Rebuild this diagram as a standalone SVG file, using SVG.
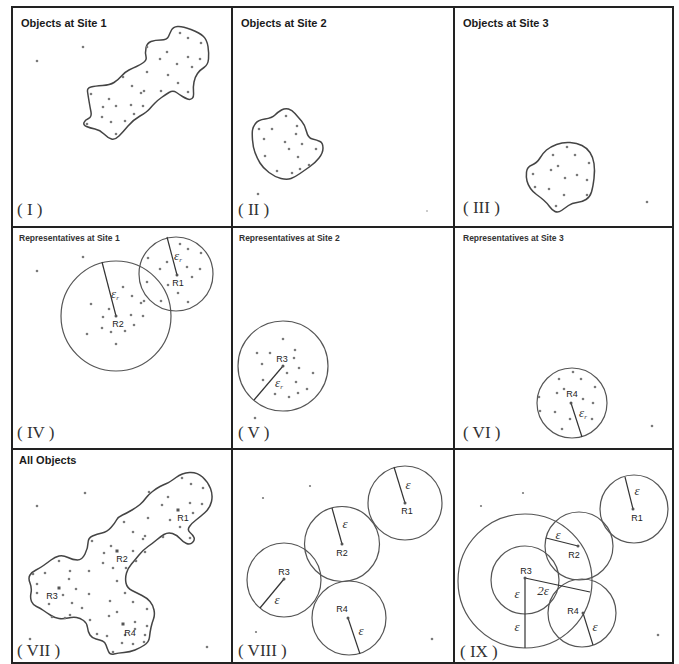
<svg xmlns="http://www.w3.org/2000/svg" width="679" height="664" viewBox="0 0 679 664">
<style>
.grid{fill:none;stroke:#222;stroke-width:2}
.blob{fill:none;stroke:#444;stroke-width:1.5;stroke-linejoin:round}
.circ{fill:none;stroke:#555;stroke-width:1.2}
.rad{stroke:#333;stroke-width:1.2}
.d{fill:#7a7a7a}
.rp{fill:#555}
.t1{font-family:"Liberation Sans",Arial,sans-serif;font-weight:bold;font-size:11px;fill:#1a1a1a}
.t2{font-family:"Liberation Sans",Arial,sans-serif;font-weight:bold;font-size:8.5px;fill:#333}
.rl{font-family:"Liberation Sans",Arial,sans-serif;font-size:9px;fill:#222;text-anchor:middle}
.num{font-family:"Liberation Serif","Times New Roman",serif;font-size:17px;fill:#333}
.eps{font-family:"Liberation Serif","Times New Roman",serif;font-style:italic;font-size:13px;fill:#333;text-anchor:middle}
.sub{font-size:7px}
</style>
<rect x="0" y="0" width="679" height="664" fill="#fff"/>
<g id="grid">
<rect class="grid" x="12" y="7" width="661" height="656"/>
<line class="grid" x1="232" y1="7" x2="232" y2="663"/>
<line class="grid" x1="454" y1="7" x2="454" y2="663"/>
<line class="grid" x1="12" y1="227" x2="673" y2="227"/>
<line class="grid" x1="12" y1="449" x2="673" y2="449"/>
</g>

<g id="panel-I">
<text class="t1" x="21" y="27">Objects at Site 1</text>
<path class="blob" d="M171.5,30 Q173,27 177.5,26.5 Q182,26 191,29.5 Q200,33 203.5,36.5 Q207,40 208,46.5 Q209,53 208.5,59 Q208,65 204,67.5 Q200,70 197.5,73.5 Q195,77 194,82 Q193,87 193.5,92 Q194,97 192,98.5 Q190,100 187.5,99 Q185,98 182.5,96.5 Q180,95 176.5,92.5 Q173,90 169,92.5 Q165,95 161.5,97.5 Q158,100 155,103 Q152,106 149.5,109 Q147,112 140,116 Q133,120 128,126 Q123,132 119,136 Q115,140 111.5,139 Q108,138 104,134 Q100,130 95,129 Q90,128 86.5,126.5 Q83,125 84,122.5 Q85,120 88.5,118.5 Q92,117 91,112 Q90,107 89,101 Q88,95 87.5,91.5 Q87,88 91,87 Q95,86 102.5,85.5 Q110,85 114,82.5 Q118,80 121.5,76 Q125,72 129,70 Q133,68 136.5,66.5 Q140,65 143.5,62.5 Q147,60 146,56.5 Q145,53 146,48 Q147,43 151,41.5 Q155,40 161,40 Q167,40 168.5,36.5 Q170,33 171.5,30 Z"/>
<g class="d">
<circle cx="180" cy="33" r="1.3"/><circle cx="188" cy="38" r="1.3"/><circle cx="201" cy="43" r="1.3"/><circle cx="147" cy="47" r="1.3"/><circle cx="167" cy="52" r="1.3"/><circle cx="160" cy="59" r="1.3"/><circle cx="188" cy="57" r="1.3"/><circle cx="200" cy="59" r="1.3"/><circle cx="177" cy="64" r="1.3"/><circle cx="192" cy="67" r="1.3"/><circle cx="147" cy="72" r="1.3"/><circle cx="168" cy="75" r="1.3"/><circle cx="123" cy="77" r="1.3"/><circle cx="132" cy="86" r="1.3"/><circle cx="178" cy="83" r="1.3"/><circle cx="144" cy="91" r="1.3"/><circle cx="141" cy="93" r="1.3"/><circle cx="161" cy="91" r="1.3"/><circle cx="188" cy="92" r="1.3"/><circle cx="91" cy="94" r="1.3"/><circle cx="109" cy="99" r="1.3"/><circle cx="103" cy="107" r="1.3"/><circle cx="116" cy="106" r="1.3"/><circle cx="131" cy="105" r="1.3"/><circle cx="143" cy="106" r="1.3"/><circle cx="134" cy="114" r="1.3"/><circle cx="102" cy="117" r="1.3"/><circle cx="111" cy="122" r="1.3"/><circle cx="125" cy="121" r="1.3"/><circle cx="87" cy="124" r="1.3"/><circle cx="116" cy="134" r="1.3"/>
<circle cx="37" cy="61" r="1.3"/><circle cx="83" cy="47" r="1.3"/>
</g>
<text class="num" x="17" y="215">( I )</text>
</g>

<g id="panel-II">
<text class="t1" x="241" y="27">Objects at Site 2</text>
<path class="blob" d="M252.5,130 Q253,127 255.5,123.5 Q258,120 265,119 Q272,118 275,115 Q278,112 281.5,110 Q285,108 288.5,109 Q292,110 295,113.5 Q298,117 301.5,121 Q305,125 306.5,131.5 Q308,138 312.5,139 Q317,140 320,141.5 Q323,143 323,148 Q323,153 319,158 Q315,163 310,166.5 Q305,170 300,173.5 Q295,177 291,178.5 Q287,180 281,178.5 Q275,177 269,172.5 Q263,168 260,163 Q257,158 255,152.5 Q253,147 252.5,140 Q252,133 252.5,130 Z"/>
<g class="d">
<circle cx="286" cy="116" r="1.3"/><circle cx="259" cy="129" r="1.3"/><circle cx="272" cy="129" r="1.3"/><circle cx="297" cy="126" r="1.3"/><circle cx="296" cy="134" r="1.3"/><circle cx="264" cy="139" r="1.3"/><circle cx="285" cy="142" r="1.3"/><circle cx="302" cy="144" r="1.3"/><circle cx="289" cy="149" r="1.3"/><circle cx="316" cy="149" r="1.3"/><circle cx="265" cy="156" r="1.3"/><circle cx="298" cy="157" r="1.3"/><circle cx="309" cy="165" r="1.3"/><circle cx="300" cy="169" r="1.3"/><circle cx="277" cy="171" r="1.3"/><circle cx="292" cy="173" r="1.3"/>
<circle cx="258" cy="194" r="1.3"/><circle cx="427" cy="211" r="1" fill="#bbb"/>
</g>
<text class="num" x="238" y="215">( II )</text>
</g>

<g id="panel-III">
<text class="t1" x="463" y="27">Objects at Site 3</text>
<path class="blob" d="M526.5,172 Q527,167 532,165 Q537,163 540,158 Q543,153 546.5,150 Q550,147 556.5,144.5 Q563,142 570,142.5 Q577,143 582,145.5 Q587,148 590,152.5 Q593,157 594,163.5 Q595,170 594,178.5 Q593,187 591.5,192 Q590,197 586,199.5 Q582,202 577,202.5 Q572,203 568.5,205.5 Q565,208 561.5,210.5 Q558,213 555,211.5 Q552,210 549.5,206.5 Q547,203 543.5,200 Q540,197 536.5,194.5 Q533,192 530.5,188.5 Q528,185 527,181 Q526,177 526.5,172 Z"/>
<g class="d">
<circle cx="567" cy="147" r="1.3"/><circle cx="553" cy="155" r="1.3"/><circle cx="575" cy="155" r="1.3"/><circle cx="589" cy="163" r="1.3"/><circle cx="558" cy="166" r="1.3"/><circle cx="551" cy="170" r="1.3"/><circle cx="533" cy="174" r="1.3"/><circle cx="577" cy="175" r="1.3"/><circle cx="565" cy="178" r="1.3"/><circle cx="587" cy="180" r="1.3"/><circle cx="535" cy="187" r="1.3"/><circle cx="549" cy="189" r="1.3"/><circle cx="564" cy="195" r="1.3"/><circle cx="587" cy="195" r="1.3"/><circle cx="556" cy="206" r="1.3"/>
<circle cx="647" cy="202" r="1.3"/>
</g>
<text class="num" x="463" y="213">( III )</text>
</g>

<g id="panel-IV">
<text class="t2" x="19" y="241">Representatives at Site 1</text>
<circle class="circ" cx="116" cy="316" r="55"/>
<circle class="circ" cx="176" cy="274" r="37"/>
<line class="rad" x1="116" y1="316" x2="102" y2="262"/>
<line class="rad" x1="177" y1="275" x2="167" y2="237"/>
<g class="d">
<circle cx="180" cy="244" r="1.3"/><circle cx="188" cy="249" r="1.3"/><circle cx="201" cy="253" r="1.3"/><circle cx="148" cy="258" r="1.3"/><circle cx="167" cy="262" r="1.3"/><circle cx="160" cy="269" r="1.3"/><circle cx="187" cy="267" r="1.3"/><circle cx="200" cy="269" r="1.3"/><circle cx="192" cy="277" r="1.3"/><circle cx="147" cy="282" r="1.3"/><circle cx="168" cy="285" r="1.3"/><circle cx="178" cy="293" r="1.3"/><circle cx="188" cy="302" r="1.3"/><circle cx="161" cy="301" r="1.3"/>
<circle cx="123" cy="287" r="1.3"/><circle cx="132" cy="296" r="1.3"/><circle cx="144" cy="301" r="1.3"/><circle cx="141" cy="303" r="1.3"/><circle cx="91" cy="304" r="1.3"/><circle cx="109" cy="309" r="1.3"/><circle cx="103" cy="317" r="1.3"/><circle cx="131" cy="315" r="1.3"/><circle cx="143" cy="316" r="1.3"/><circle cx="134" cy="325" r="1.3"/><circle cx="102" cy="328" r="1.3"/><circle cx="111" cy="332" r="1.3"/><circle cx="125" cy="331" r="1.3"/><circle cx="87" cy="334" r="1.3"/><circle cx="116" cy="344" r="1.3"/>
<circle cx="37" cy="271" r="1.3"/><circle cx="83" cy="257" r="1.3"/>
</g>
<circle class="rp" cx="177" cy="275" r="1.5"/><circle class="rp" cx="116" cy="316" r="1.5"/>
<text class="eps" x="178" y="260">ε<tspan class="sub" dy="2">r</tspan></text>
<text class="eps" x="115" y="298">ε<tspan class="sub" dy="2">r</tspan></text>
<text class="rl" x="178" y="286">R1</text>
<text class="rl" x="118" y="327">R2</text>
<text class="num" x="17" y="438">( IV )</text>
</g>

<g id="panel-V">
<text class="t2" x="239" y="241">Representatives at Site 2</text>
<circle class="circ" cx="283" cy="366" r="45"/>
<line class="rad" x1="283" y1="366" x2="254" y2="400"/>
<g class="d">
<circle cx="283" cy="339" r="1.3"/><circle cx="257" cy="353" r="1.3"/><circle cx="270" cy="353" r="1.3"/><circle cx="295" cy="350" r="1.3"/><circle cx="294" cy="358" r="1.3"/><circle cx="262" cy="364" r="1.3"/><circle cx="299" cy="368" r="1.3"/><circle cx="287" cy="373" r="1.3"/><circle cx="313" cy="373" r="1.3"/><circle cx="263" cy="380" r="1.3"/><circle cx="296" cy="382" r="1.3"/><circle cx="307" cy="389" r="1.3"/><circle cx="298" cy="393" r="1.3"/><circle cx="275" cy="394" r="1.3"/><circle cx="289" cy="397" r="1.3"/>
<circle cx="255" cy="418" r="1.3"/>
</g>
<circle class="rp" cx="283" cy="366" r="1.5"/>
<text class="rl" x="282" y="362">R3</text>
<text class="eps" x="279" y="387">ε<tspan class="sub" dy="2">r</tspan></text>
<text class="num" x="238" y="438">( V )</text>
</g>

<g id="panel-VI">
<text class="t2" x="463" y="241">Representatives at Site 3</text>
<circle class="circ" cx="572" cy="403" r="35"/>
<line class="rad" x1="571" y1="403" x2="582" y2="437"/>
<g class="d">
<circle cx="573" cy="372" r="1.3"/><circle cx="559" cy="379" r="1.3"/><circle cx="581" cy="379" r="1.3"/><circle cx="595" cy="387" r="1.3"/><circle cx="564" cy="389" r="1.3"/><circle cx="557" cy="393" r="1.3"/><circle cx="539" cy="397" r="1.3"/><circle cx="583" cy="399" r="1.3"/><circle cx="593" cy="403" r="1.3"/><circle cx="540" cy="411" r="1.3"/><circle cx="555" cy="412" r="1.3"/><circle cx="570" cy="419" r="1.3"/><circle cx="592" cy="419" r="1.3"/><circle cx="562" cy="429" r="1.3"/>
<circle cx="652" cy="426" r="1.3"/>
</g>
<circle class="rp" cx="571" cy="403" r="1.5"/>
<text class="rl" x="572" y="397">R4</text>
<text class="eps" x="583" y="417">ε<tspan class="sub" dy="2">r</tspan></text>
<text class="num" x="463" y="438">( VI )</text>
</g>

<g id="panel-VII">
<text class="t1" x="19" y="464">All Objects</text>
<path class="blob" d="M166.5,483.5 Q170,482 176,477.5 Q182,473 189.5,472.5 Q197,472 202.5,477 Q208,482 210.5,488.5 Q213,495 211.5,501.5 Q210,508 205,512.5 Q200,517 196,520 Q192,523 189.5,526.5 Q187,530 190,532.5 Q193,535 194,537.5 Q195,540 192.5,542.5 Q190,545 186.5,543.5 Q183,542 180,538.5 Q177,535 172.5,533.5 Q168,532 164,534.5 Q160,537 156.5,540 Q153,543 148,546.5 Q143,550 139,555 Q135,560 131.5,564 Q128,568 126.5,573 Q125,578 126,583 Q127,588 132,590.5 Q137,593 142,595.5 Q147,598 150,601.5 Q153,605 154,610 Q155,615 153.5,619 Q152,623 151,627.5 Q150,632 149.5,637 Q149,642 144.5,645 Q140,648 135,650 Q130,652 124,652.5 Q118,653 114,654 Q110,655 108.5,651.5 Q107,648 106,645 Q105,642 102.5,641 Q100,640 96,639 Q92,638 90,635 Q88,632 87.5,627.5 Q87,623 83.5,620.5 Q80,618 76.5,617.5 Q73,617 68,618 Q63,619 59,618.5 Q55,618 51,615.5 Q47,613 43.5,610.5 Q40,608 36.5,606.5 Q33,605 31.5,601.5 Q30,598 31,593 Q32,588 30,583 Q28,578 30,575 Q32,572 36,570 Q40,568 43.5,565.5 Q47,563 51,560 Q55,557 59,556 Q63,555 68,557.5 Q73,560 77.5,560 Q82,560 85,554 Q88,548 88,543 Q88,538 92.5,536 Q97,534 102,533 Q107,532 111,527.5 Q115,523 116.5,520 Q118,517 122.5,515 Q127,513 132,510 Q137,507 140,504.5 Q143,502 145.5,498.5 Q148,495 152.5,491.5 Q157,488 160,486.5 Q163,485 166.5,483.5 Z"/>
<g class="d">
<circle cx="182" cy="478" r="1.3"/><circle cx="191" cy="484" r="1.3"/><circle cx="203" cy="488" r="1.3"/><circle cx="149" cy="492" r="1.3"/><circle cx="168" cy="497" r="1.3"/><circle cx="162" cy="505" r="1.3"/><circle cx="190" cy="503" r="1.3"/><circle cx="202" cy="504" r="1.3"/><circle cx="193" cy="513" r="1.3"/><circle cx="148" cy="518" r="1.3"/><circle cx="170" cy="520" r="1.3"/><circle cx="180" cy="527" r="1.3"/><circle cx="190" cy="538" r="1.3"/><circle cx="124" cy="522" r="1.3"/><circle cx="133" cy="532" r="1.3"/><circle cx="145" cy="536" r="1.3"/><circle cx="143" cy="539" r="1.3"/><circle cx="163" cy="537" r="1.3"/><circle cx="92" cy="541" r="1.3"/><circle cx="111" cy="546" r="1.3"/><circle cx="104" cy="553" r="1.3"/><circle cx="133" cy="551" r="1.3"/><circle cx="145" cy="552" r="1.3"/><circle cx="136" cy="561" r="1.3"/><circle cx="103" cy="563" r="1.3"/><circle cx="113" cy="568" r="1.3"/><circle cx="126" cy="568" r="1.3"/><circle cx="89" cy="571" r="1.3"/><circle cx="117" cy="581" r="1.3"/><circle cx="59" cy="561" r="1.3"/><circle cx="45" cy="573" r="1.3"/><circle cx="33" cy="574" r="1.3"/><circle cx="70" cy="571" r="1.3"/><circle cx="37" cy="584" r="1.3"/><circle cx="69" cy="579" r="1.3"/><circle cx="76" cy="589" r="1.3"/><circle cx="63" cy="595" r="1.3"/><circle cx="89" cy="594" r="1.3"/><circle cx="37" cy="593" r="1.3"/><circle cx="72" cy="603" r="1.3"/><circle cx="49" cy="604" r="1.3"/><circle cx="82" cy="608" r="1.3"/><circle cx="52" cy="617" r="1.3"/><circle cx="65" cy="618" r="1.3"/><circle cx="70" cy="615" r="1.3"/><circle cx="125" cy="593" r="1.3"/><circle cx="133" cy="602" r="1.3"/><circle cx="110" cy="601" r="1.3"/><circle cx="147" cy="609" r="1.3"/><circle cx="117" cy="612" r="1.3"/><circle cx="109" cy="616" r="1.3"/><circle cx="90" cy="620" r="1.3"/><circle cx="135" cy="622" r="1.3"/><circle cx="147" cy="626" r="1.3"/><circle cx="135" cy="629" r="1.3"/><circle cx="97" cy="634" r="1.3"/><circle cx="107" cy="636" r="1.3"/><circle cx="125" cy="635" r="1.3"/><circle cx="145" cy="635" r="1.3"/><circle cx="122" cy="643" r="1.3"/><circle cx="133" cy="644" r="1.3"/><circle cx="144" cy="642" r="1.3"/><circle cx="113" cy="652" r="1.3"/>
<circle cx="37" cy="506" r="1.3"/><circle cx="85" cy="493" r="1.3"/><circle cx="207" cy="647" r="1.3"/><circle cx="30" cy="639" r="1.3"/>
</g>
<g class="rp">
<rect x="176.5" y="508.5" width="3" height="3"/><rect x="115.5" y="549.5" width="3" height="3"/><rect x="57.5" y="586.5" width="3" height="3"/><rect x="121.5" y="622.5" width="3" height="3"/>
</g>
<text class="rl" x="183" y="521">R1</text>
<text class="rl" x="122" y="562">R2</text>
<text class="rl" x="52" y="599">R3</text>
<text class="rl" x="130" y="636">R4</text>
<text class="num" x="17" y="656">( VII )</text>
</g>

<g id="panel-VIII">
<circle class="circ" cx="405" cy="503" r="37"/>
<circle class="circ" cx="342" cy="544" r="37.5"/>
<circle class="circ" cx="284" cy="580" r="37"/>
<circle class="circ" cx="349" cy="618" r="37"/>
<line class="rad" x1="405" y1="503" x2="394" y2="467"/>
<line class="rad" x1="342" y1="544" x2="332" y2="508"/>
<line class="rad" x1="284" y1="579" x2="260" y2="608"/>
<line class="rad" x1="348" y1="618" x2="360" y2="654"/>
<g class="rp"><circle cx="405" cy="503" r="1.5"/><circle cx="342" cy="544" r="1.5"/><circle cx="284" cy="579" r="1.5"/><circle cx="348" cy="618" r="1.5"/></g>
<text class="eps" x="408" y="489">ε</text>
<text class="eps" x="345" y="528">ε</text>
<text class="eps" x="277" y="604">ε</text>
<text class="eps" x="361" y="635">ε</text>
<text class="rl" x="407" y="514">R1</text>
<text class="rl" x="342" y="556">R2</text>
<text class="rl" x="284" y="575">R3</text>
<text class="rl" x="342" y="612">R4</text>
<g class="d"><circle cx="263" cy="498" r="1.1"/><circle cx="310" cy="486" r="1.1"/><circle cx="256" cy="632" r="1.1"/><circle cx="432" cy="639" r="1.3"/></g>
<text class="num" x="238" y="656">( VIII )</text>
</g>

<g id="panel-IX">
<circle class="circ" cx="525" cy="581" r="67"/>
<circle class="circ" cx="525" cy="580" r="34"/>
<circle class="circ" cx="634" cy="509" r="34"/>
<circle class="circ" cx="579" cy="546" r="34"/>
<circle class="circ" cx="582" cy="613" r="34"/>
<line class="rad" x1="633" y1="509" x2="625" y2="477"/>
<line class="rad" x1="578" y1="546" x2="546" y2="538"/>
<line class="rad" x1="525" y1="578" x2="525" y2="648"/>
<line class="rad" x1="525" y1="578" x2="590" y2="592"/>
<line class="rad" x1="583" y1="613" x2="593" y2="645"/>
<g class="rp"><circle cx="633" cy="509" r="1.5"/><circle cx="578" cy="546" r="1.5"/><circle cx="525" cy="578" r="1.5"/><circle cx="583" cy="613" r="1.5"/></g>
<text class="eps" x="637" y="495">ε</text>
<text class="eps" x="558" y="539">ε</text>
<text class="eps" x="517" y="598">ε</text>
<text class="eps" x="543" y="595">2ε</text>
<text class="eps" x="517" y="631">ε</text>
<text class="eps" x="595" y="631">ε</text>
<text class="rl" x="637" y="521">R1</text>
<text class="rl" x="574" y="558">R2</text>
<text class="rl" x="526" y="574">R3</text>
<text class="rl" x="573" y="614">R4</text>
<g class="d"><circle cx="523" cy="493" r="1.1"/><circle cx="481" cy="506" r="1.1"/><circle cx="658" cy="635" r="1.3"/></g>
<text class="num" x="460" y="657">( IX )</text>
</g>
</svg>
